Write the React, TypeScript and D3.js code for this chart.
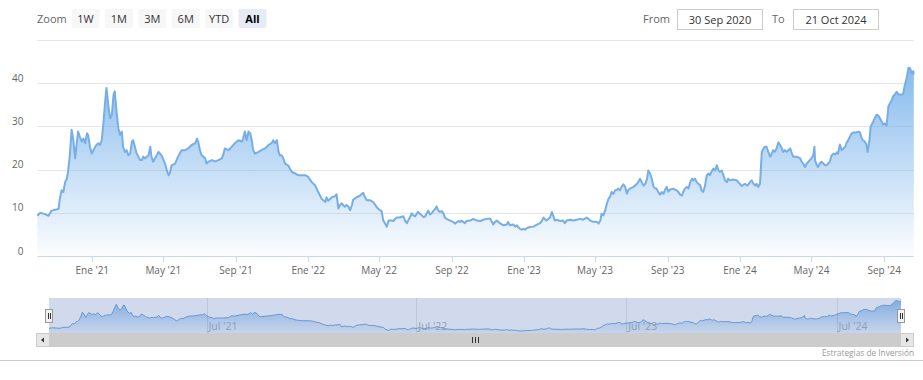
import React from "react";
import * as d3 from "d3";

// ---------- DATA ----------
const startDate = "2020-09-30";
const endDate = "2024-10-21";

const dates = [
  "2020-09-30","2020-10-05","2020-10-13","2020-10-19","2020-10-24","2020-10-30","2020-11-05","2020-11-07","2020-11-10","2020-11-13","2020-11-16","2020-11-19","2020-11-21","2020-11-24","2020-11-27","2020-11-30","2020-12-03","2020-12-06","2020-12-08","2020-12-11","2020-12-14","2020-12-17","2020-12-20","2020-12-23","2020-12-25","2020-12-28","2020-12-31",
  "2021-01-03","2021-01-06","2021-01-08","2021-01-11","2021-01-14","2021-01-17","2021-01-20","2021-01-23","2021-01-25","2021-01-28","2021-01-31","2021-02-03","2021-02-06","2021-02-08","2021-02-11","2021-02-14","2021-02-17","2021-02-20","2021-02-22","2021-02-25","2021-02-28","2021-03-03","2021-03-06","2021-03-09","2021-03-11","2021-03-14","2021-03-17","2021-03-20","2021-03-23","2021-03-26","2021-03-28","2021-03-31","2021-04-06","2021-04-09","2021-04-11","2021-04-14","2021-04-17","2021-04-23","2021-04-28","2021-05-04","2021-05-07","2021-05-10","2021-05-12","2021-05-15","2021-05-21","2021-05-26","2021-06-01","2021-06-07","2021-06-12","2021-06-18","2021-06-24","2021-06-27","2021-06-29","2021-07-02","2021-07-05","2021-07-11","2021-07-13","2021-07-16","2021-07-22","2021-07-28","2021-08-02","2021-08-08","2021-08-11","2021-08-13","2021-08-19","2021-08-25","2021-08-30","2021-09-05","2021-09-11","2021-09-13","2021-09-16","2021-09-19","2021-09-22","2021-09-25","2021-09-28","2021-09-30","2021-10-03","2021-10-09","2021-10-14","2021-10-20","2021-10-26","2021-10-31","2021-11-03","2021-11-06","2021-11-09","2021-11-12","2021-11-14","2021-11-17","2021-11-20","2021-11-23","2021-11-28","2021-12-04","2021-12-10","2021-12-15","2021-12-21","2021-12-27",
  "2022-01-01","2022-01-07","2022-01-13","2022-01-18","2022-01-24","2022-01-30","2022-02-01","2022-02-04","2022-02-10","2022-02-15","2022-02-18","2022-02-21","2022-02-24","2022-02-27","2022-03-01","2022-03-04","2022-03-07","2022-03-10","2022-03-13","2022-03-16","2022-03-18","2022-03-24","2022-03-30","2022-04-02","2022-04-04","2022-04-07","2022-04-10","2022-04-16","2022-04-21","2022-04-27","2022-05-03","2022-05-05","2022-05-08","2022-05-11","2022-05-14","2022-05-17","2022-05-22","2022-05-25","2022-05-28","2022-05-31","2022-06-05","2022-06-11","2022-06-14","2022-06-17","2022-06-19","2022-06-22","2022-06-25","2022-06-28","2022-07-01","2022-07-04","2022-07-06","2022-07-09","2022-07-12","2022-07-15","2022-07-18","2022-07-20","2022-07-23","2022-07-26","2022-07-29","2022-08-01","2022-08-04","2022-08-06","2022-08-09","2022-08-12","2022-08-15","2022-08-18","2022-08-20","2022-08-23","2022-08-29","2022-09-03","2022-09-06","2022-09-12","2022-09-15","2022-09-18","2022-09-20","2022-09-23","2022-09-26","2022-10-02","2022-10-07","2022-10-13","2022-10-19","2022-10-24","2022-10-30","2022-11-05","2022-11-10","2022-11-13","2022-11-16","2022-11-21","2022-11-27","2022-12-03","2022-12-05","2022-12-08","2022-12-14","2022-12-17","2022-12-20","2022-12-22","2022-12-25","2022-12-28","2022-12-31",
  "2023-01-03","2023-01-06","2023-01-11","2023-01-17","2023-01-22","2023-01-28","2023-01-31","2023-02-03","2023-02-06","2023-02-08","2023-02-11","2023-02-14","2023-02-17","2023-02-20","2023-02-22","2023-02-25","2023-03-03","2023-03-08","2023-03-11","2023-03-14","2023-03-20","2023-03-25","2023-03-31","2023-04-06","2023-04-11","2023-04-17","2023-04-23","2023-04-28","2023-05-04","2023-05-07","2023-05-10","2023-05-12","2023-05-15","2023-05-18","2023-05-21","2023-05-24","2023-05-26","2023-05-29","2023-06-01","2023-06-04","2023-06-07","2023-06-09","2023-06-12","2023-06-15","2023-06-18","2023-06-21","2023-06-24","2023-06-26","2023-06-29","2023-07-05","2023-07-11","2023-07-13","2023-07-16","2023-07-19","2023-07-22","2023-07-25","2023-07-28","2023-07-30","2023-08-02","2023-08-05","2023-08-08","2023-08-11","2023-08-13","2023-08-16","2023-08-19","2023-08-22","2023-08-25","2023-08-27","2023-08-30","2023-09-02","2023-09-05","2023-09-10","2023-09-16","2023-09-19","2023-09-22","2023-09-25","2023-09-27","2023-09-30","2023-10-03","2023-10-06","2023-10-09","2023-10-12","2023-10-14","2023-10-17","2023-10-20","2023-10-26","2023-10-28","2023-10-31","2023-11-03","2023-11-06","2023-11-09","2023-11-11","2023-11-14","2023-11-17","2023-11-20","2023-11-23","2023-11-26","2023-11-28","2023-12-01","2023-12-04","2023-12-07","2023-12-10","2023-12-12","2023-12-15","2023-12-21","2023-12-27","2023-12-29",
  "2024-01-01","2024-01-04","2024-01-07","2024-01-10","2024-01-13","2024-01-15","2024-01-18","2024-01-21","2024-01-24","2024-01-27","2024-01-29","2024-02-01","2024-02-04","2024-02-07","2024-02-10","2024-02-12","2024-02-15","2024-02-18","2024-02-21","2024-02-24","2024-02-26","2024-02-29","2024-03-03","2024-03-06","2024-03-09","2024-03-12","2024-03-14","2024-03-17","2024-03-20","2024-03-23","2024-03-26","2024-03-29","2024-03-31","2024-04-06","2024-04-12","2024-04-14","2024-04-17","2024-04-20","2024-04-23","2024-04-26","2024-04-28","2024-05-01","2024-05-04","2024-05-06","2024-05-07","2024-05-10","2024-05-12","2024-05-15","2024-05-18","2024-05-21","2024-05-24","2024-05-27","2024-05-29","2024-06-01","2024-06-04","2024-06-07","2024-06-10","2024-06-13","2024-06-15","2024-06-18","2024-06-21","2024-06-24","2024-06-27","2024-06-29","2024-07-02","2024-07-05","2024-07-08","2024-07-11","2024-07-16","2024-07-19","2024-07-22","2024-07-25","2024-07-27","2024-07-30","2024-08-02","2024-08-04","2024-08-07","2024-08-09","2024-08-12","2024-08-16","2024-08-19","2024-08-22","2024-08-25","2024-08-28","2024-08-30","2024-09-02","2024-09-05","2024-09-08","2024-09-11","2024-09-14","2024-09-16","2024-09-19","2024-09-22","2024-09-25","2024-10-01","2024-10-03","2024-10-06","2024-10-09","2024-10-12","2024-10-15","2024-10-17","2024-10-20","2024-10-21"
];

const values = [
  9.3,10.0,9.7,9.3,10.5,10.7,10.9,13.2,15.2,14.8,17.1,17.9,19.5,23.3,29.2,26.8,22.6,26.5,28.8,27.6,26.5,27.2,26.1,28.4,28.0,25.3,23.7,
  24.5,25.3,25.7,26.1,25.7,26.8,31.1,36.2,38.9,35.0,31.9,32.7,37.4,38.1,33.5,29.6,28.0,28.8,25.3,24.1,24.5,23.3,23.7,26.5,26.8,25.3,23.7,23.0,22.2,22.2,23.0,22.6,23.3,25.3,23.0,21.8,22.6,24.1,23.3,21.4,19.8,18.7,19.1,21.0,21.4,23.0,24.5,24.5,24.9,25.7,26.1,27.2,26.5,24.5,23.3,22.6,21.4,21.8,22.2,21.9,22.2,22.6,23.7,24.9,24.5,25.3,26.1,26.8,26.5,27.2,28.8,26.8,28.8,28.4,26.5,24.5,23.7,24.1,24.5,24.9,25.7,26.1,26.8,26.1,26.8,24.1,23.3,23.3,22.6,21.4,21.0,19.5,19.1,18.7,18.7,18.7,
  18.3,17.1,16.3,14.8,13.2,12.5,13.6,12.8,13.6,13.8,14.3,11.0,11.8,12.2,11.8,11.4,11.8,11.4,10.6,11.8,13.0,13.6,14.0,14.4,14.6,13.6,12.9,12.9,12.5,11.3,10.5,10.5,8.2,7.5,6.8,8.2,8.2,8.1,8.6,8.9,8.9,9.2,8.1,7.6,8.2,8.9,9.9,9.4,9.2,9.9,10.2,9.8,9.4,9.0,9.2,9.8,10.5,9.6,9.9,10.5,10.9,11.5,10.5,10.2,10.4,9.8,8.9,8.6,8.2,7.9,7.5,8.1,7.9,8.2,7.9,7.6,8.1,8.2,8.6,8.2,8.1,8.4,8.6,8.6,7.3,7.9,8.2,7.6,7.1,7.3,7.9,7.1,7.3,6.8,7.1,6.7,6.3,6.1,6.3,
  6.1,6.5,6.7,6.8,7.2,7.6,8.1,8.9,8.4,8.2,8.6,8.9,10.2,9.0,8.2,8.4,8.1,8.2,7.6,8.2,8.4,8.2,8.4,8.6,8.4,8.9,8.2,7.9,7.9,7.5,8.2,9.8,9.4,10.5,12.1,13.3,13.6,14.8,14.4,15.2,15.3,15.6,15.2,16.0,16.6,16.0,14.4,15.2,15.6,16.0,16.7,17.1,17.9,17.1,16.3,16.7,17.9,19.8,19.1,17.9,16.0,15.6,15.6,14.8,14.2,14.8,14.4,15.2,16.0,14.9,15.4,15.6,15.2,14.8,14.2,14.0,14.8,15.6,16.0,15.6,17.1,17.9,17.5,17.9,17.1,16.3,15.2,14.8,16.3,18.7,19.1,18.7,19.5,20.2,19.8,21.0,19.8,19.5,19.8,18.7,17.5,17.1,17.9,17.5,17.7,17.5,17.1,
  16.7,16.2,16.5,16.7,16.3,16.5,17.1,17.5,16.7,16.3,16.7,16.0,16.7,24.1,24.9,25.3,25.3,24.1,23.0,23.7,24.5,24.1,24.9,26.3,25.7,24.9,24.1,24.5,24.1,24.5,24.9,23.7,23.0,23.0,22.6,21.9,21.4,20.6,21.4,21.8,22.2,22.6,23.3,25.3,22.2,21.0,20.6,21.4,21.8,21.4,21.0,21.0,21.4,21.8,23.3,23.7,23.5,24.0,23.7,25.8,24.5,24.9,25.3,26.1,26.8,27.6,28.4,28.6,28.6,28.8,28.6,27.2,26.8,26.5,25.8,24.1,26.8,30.0,30.7,31.9,32.7,32.5,31.8,31.1,30.4,30.7,30.2,34.6,35.4,36.2,37.0,37.4,38.0,37.4,37.4,37.5,39.7,41.2,43.6,43.4,42.4,42.8,42.0
];

const yTicks = [0, 10, 20, 30, 40, 50];
const yTickLabels = ["0", "10", "20", "30", "40", ""];
const monthNames = ["Ene", "Feb", "Mar", "Abr", "May", "Jun", "Jul", "Ago", "Sep", "Oct", "Nov", "Dic"];
const navTickDates = ["2021-07-01", "2022-07-01", "2023-07-01", "2024-07-01"];
const zoomButtons = ["1W", "1M", "3M", "6M", "YTD", "All"];
const selectedButton = "All";
const fromText = "30 Sep 2020";
const toText = "21 Oct 2024";
const creditsText = "Estrategias de Inversión";

const FONT = "'Open Sans', 'Noto Sans', sans-serif";

export default function App() {
  const parse = d3.timeParse("%Y-%m-%d");
  const data = dates.map((d, i) => ({ date: parse(d) as Date, value: values[i] }));
  const domain = [parse(startDate) as Date, parse(endDate) as Date];

  // main plot
  const plotL = 37.3, plotR = 913.8, plotTop = 40, plotBottom = 256;
  const x = d3.scaleTime().domain(domain).range([plotL, plotR]);
  const y = d3.scaleLinear().domain([0, 50]).range([plotBottom, plotTop]);

  const area = d3.area<{ date: Date; value: number }>()
    .x(d => x(d.date)).y0(y(0)).y1(d => y(d.value));
  const line = d3.line<{ date: Date; value: number }>()
    .x(d => x(d.date)).y(d => y(d.value));

  const xTicks = x.ticks(d3.timeMonth.every(4) as d3.TimeInterval);
  const fmt = (d: Date) => `${monthNames[d.getMonth()]} '${String(d.getFullYear()).slice(2)}`;

  // navigator
  const navL = 49, navR = 901, navTop = 298, navBottom = 333;
  const xNav = d3.scaleTime().domain(domain).range([navL, navR]);
  const ext = d3.extent(values) as [number, number];
  const yNav = d3.scaleLinear().domain(ext).range([331, 300.5]);
  const navArea = d3.area<{ date: Date; value: number }>()
    .x(d => xNav(d.date)).y0(navBottom).y1(d => yNav(d.value));
  const navLine = d3.line<{ date: Date; value: number }>()
    .x(d => xNav(d.date)).y(d => yNav(d.value));
  const navTicks = navTickDates.map(s => parse(s) as Date);

  const sbTop = 333, sbBottom = 347, sbL = 36, sbR = 914;

  const btnX0 = 71.5, btnStep = 33.4, btnW = 28, btnH = 19, btnY = 9;

  return (
    <svg width={923} height={380} style={{ position: "absolute", left: 0, top: 0, fontFamily: FONT }}>
      <defs>
        <linearGradient id="mainGrad" x1="0" y1="0" x2="0" y2="1">
          <stop offset="0%" stopColor="#7cb5ec" stopOpacity={0.92} />
          <stop offset="100%" stopColor="#7cb5ec" stopOpacity={0.03} />
        </linearGradient>
        <linearGradient id="navGrad" x1="0" y1="0" x2="0" y2="1">
          <stop offset="0%" stopColor="#7cb5ec" stopOpacity={0.85} />
          <stop offset="100%" stopColor="#7cb5ec" stopOpacity={0.1} />
        </linearGradient>
      </defs>
      <rect x={0} y={0} width={923} height={380} fill="#ffffff" />

      {/* range selector */}
      <text x={37} y={22.5} fontSize={11} fill="#666666">Zoom</text>
      {zoomButtons.map((b, i) => {
        const bx = btnX0 + i * btnStep;
        const sel = b === selectedButton;
        return (
          <g key={b}>
            <rect x={bx} y={btnY} width={btnW} height={btnH} rx={2} fill={sel ? "#e6ebf5" : "#f7f7f7"} />
            <text x={bx + btnW / 2} y={btnY + 13.5} fontSize={11} textAnchor="middle"
              fill={sel ? "#000000" : "#333333"} fontWeight={sel ? "bold" : "normal"}>{b}</text>
          </g>
        );
      })}
      <text x={643} y={22.5} fontSize={11} fill="#666666">From</text>
      <rect x={677.5} y={9.5} width={85} height={20} fill="#ffffff" stroke="#cccccc" />
      <text x={720} y={23.5} fontSize={11} textAnchor="middle" fill="#333333">{fromText}</text>
      <text x={772} y={22.5} fontSize={11} fill="#666666">To</text>
      <rect x={793.5} y={9.5} width={85} height={20} fill="#ffffff" stroke="#cccccc" />
      <text x={836} y={23.5} fontSize={11} textAnchor="middle" fill="#333333">{toText}</text>

      {/* grid */}
      {yTicks.map((t, i) => (
        <g key={t}>
          {t !== 0 && (
            <line x1={plotL} x2={plotR} y1={Math.round(y(t)) + 0.5} y2={Math.round(y(t)) + 0.5} stroke="#e6e6e6" />
          )}
          {yTickLabels[i] && (
            <text x={23.5} y={y(t) - 1.5} fontSize={10} textAnchor="end" fill="#666666">{yTickLabels[i]}</text>
          )}
        </g>
      ))}

      {/* series */}
      <path d={area(data) || ""} fill="url(#mainGrad)" />
      <path d={line(data) || ""} fill="none" stroke="#77aee6" strokeWidth={2} strokeLinejoin="round" />

      {/* x axis */}
      <line x1={plotL} x2={plotR} y1={plotBottom + 0.5} y2={plotBottom + 0.5} stroke="#ccd6eb" />
      {xTicks.map(t => (
        <g key={+t}>
          <line x1={Math.round(x(t)) + 0.5} x2={Math.round(x(t)) + 0.5} y1={plotBottom} y2={plotBottom + 6} stroke="#ccd6eb" />
          <text x={x(t)} y={274} fontSize={10} textAnchor="middle" fill="#666666">{fmt(t)}</text>
        </g>
      ))}

      {/* navigator */}
      <path d={navArea(data) || ""} fill="url(#navGrad)" />
      <path d={navLine(data) || ""} fill="none" stroke="#6a9fd8" strokeWidth={1} />
      <rect x={navL} y={navTop} width={navR - navL} height={navBottom - navTop} fill="rgba(102,133,194,0.3)" />
      {navTicks.map(t => (
        <g key={+t}>
          <line x1={Math.round(xNav(t)) + 0.5} x2={Math.round(xNav(t)) + 0.5} y1={navTop} y2={navBottom} stroke="rgba(0,0,0,0.09)" />
          <text x={xNav(t) + 2} y={330} fontSize={10.5} fill="#8f9fb8">{fmt(t)}</text>
        </g>
      ))}
      {/* handles */}
      {[navL, navR].map((hx, i) => (
        <g key={i}>
          <rect x={hx - 3.5} y={309.5} width={7} height={13} fill="#f2f2f2" stroke="#999999" />
          <line x1={hx - 0.5} x2={hx - 0.5} y1={313} y2={319} stroke="#333333" />
          <line x1={hx + 1.5} x2={hx + 1.5} y1={313} y2={319} stroke="#333333" />
        </g>
      ))}

      {/* scrollbar */}
      <rect x={sbL} y={sbTop} width={sbR - sbL} height={sbBottom - sbTop} fill="#f2f2f2" />
      <rect x={navL} y={sbTop} width={navR - navL} height={sbBottom - sbTop} fill="#cccccc" />
      <rect x={sbL + 0.5} y={sbTop + 0.5} width={13} height={13} fill="#e6e6e6" stroke="#cccccc" />
      <rect x={sbR - 13.5} y={sbTop + 0.5} width={13} height={13} fill="#e6e6e6" stroke="#cccccc" />
      <path d={`M${sbL + 8},${sbTop + 4.5} L${sbL + 5},${sbTop + 7} L${sbL + 8},${sbTop + 9.5} Z`} fill="#333333" />
      <path d={`M${sbR - 8},${sbTop + 4.5} L${sbR - 5},${sbTop + 7} L${sbR - 8},${sbTop + 9.5} Z`} fill="#333333" />
      {[-3, 0, 3].map(o => (
        <line key={o} x1={(navL + navR) / 2 + o + 0.5} x2={(navL + navR) / 2 + o + 0.5} y1={sbTop + 4} y2={sbTop + 10} stroke="#333333" />
      ))}

      {/* credits & bottom border */}
      <text x={914} y={355.5} fontSize={8.3} textAnchor="end" fill="#999999">{creditsText}</text>
      <line x1={0} x2={923} y1={360.5} y2={360.5} stroke="#cccccc" />
    </svg>
  );
}
